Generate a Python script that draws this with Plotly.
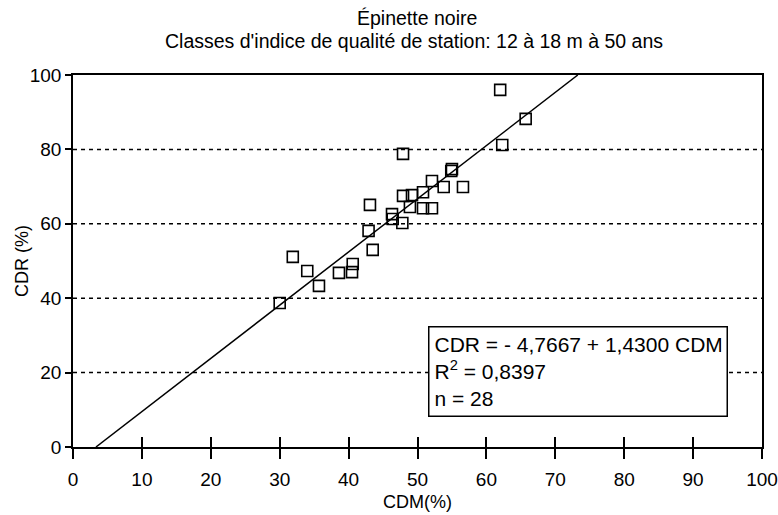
import plotly.graph_objects as go

cdm = [30.0, 31.9, 34.0, 35.7, 38.6, 40.5, 40.6, 42.9, 43.5, 43.1,
       46.3, 46.4, 47.8, 47.9, 47.9, 49.2, 48.9, 50.8, 50.8, 52.1,
       52.1, 53.8, 55.0, 54.9, 56.6, 62.0, 62.3, 65.7]
cdr = [38.7, 51.1, 47.3, 43.3, 46.8, 47.0, 49.2, 58.1, 53.0, 65.1,
       62.6, 61.3, 60.2, 78.8, 67.5, 67.7, 64.5, 68.5, 64.2, 64.2,
       71.5, 69.9, 74.7, 74.2, 69.9, 96.0, 81.2, 88.2]

intercept = -4.7667
slope = 1.4300
r2 = 0.8397
n = 28

x_ticks = [0, 10, 20, 30, 40, 50, 60, 70, 80, 90, 100]
y_ticks = [0, 20, 40, 60, 80, 100]

title_lines = ["Épinette noire",
               "Classes d'indice de qualité de station: 12 à 18 m à 50 ans"]
x_title = "CDM(%)"
y_title = "CDR (%)"

# regression line endpoints where it meets y=0 and y=100
line_x = [(0 - intercept) / slope, (100 - intercept) / slope]
line_y = [intercept + slope * v for v in line_x]

FONT = "Liberation Sans, Arial, sans-serif"

fig = go.Figure()
fig.add_trace(go.Scatter(x=line_x, y=line_y, mode="lines",
                         line=dict(color="black", width=1.5),
                         showlegend=False, hoverinfo="skip"))
fig.add_trace(go.Scatter(x=cdm, y=cdr, mode="markers",
                         marker=dict(symbol="square-open", size=11,
                                     color="black", line=dict(width=1.6)),
                         showlegend=False))
# invisible trace on overlay axis for inward ticks
fig.add_trace(go.Scatter(x=[0], y=[0], xaxis="x2", mode="markers",
                         marker=dict(opacity=0), showlegend=False,
                         hoverinfo="skip"))

for yv in y_ticks[1:-1]:
    fig.add_shape(type="line", xref="x", yref="y", x0=0, x1=100, y0=yv, y1=yv,
                  line=dict(color="black", width=1.5, dash="4px,4px"),
                  layer="below")

eq_text = ("CDR = - 4,7667 + 1,4300 CDM<br>R<sup>2</sup> = 0,8397<br>n = %d" % n)
fig.add_annotation(x=51.5, y=32.6, xref="x", yref="y", xanchor="left",
                   yanchor="top", text=eq_text, showarrow=False, align="left",
                   font=dict(family=FONT, size=21, color="black"),
                   bordercolor="black", borderwidth=1.5, bgcolor="white",
                   width=287, borderpad=5)

fig.add_annotation(x=0.499, y=1.153, xref="paper", yref="paper",
                   xanchor="center", yanchor="middle", text=title_lines[0],
                   showarrow=False, font=dict(family=FONT, size=19.5, color="black"))
fig.add_annotation(x=0.495, y=1.091, xref="paper", yref="paper",
                   xanchor="center", yanchor="middle", text=title_lines[1],
                   showarrow=False, font=dict(family=FONT, size=19.5, color="black"))
fig.add_annotation(x=-0.074, y=0.5, xref="paper", yref="paper",
                   xanchor="center", yanchor="middle", text=y_title,
                   textangle=-90, showarrow=False,
                   font=dict(family=FONT, size=18, color="black"))
fig.add_annotation(x=0.5, y=-0.148, xref="paper", yref="paper",
                   xanchor="center", yanchor="middle", text=x_title,
                   showarrow=False,
                   font=dict(family=FONT, size=18, color="black"))

fig.update_layout(
    width=778, height=515,
    margin=dict(l=73, r=16, t=75, b=68),
    paper_bgcolor="white", plot_bgcolor="white",
    font=dict(family=FONT, size=19, color="black"),
    xaxis=dict(range=[0, 100], tickvals=x_ticks, ticks="outside", ticklen=10,
               tickwidth=1.5, tickcolor="black", showline=True, linecolor="black",
               linewidth=1.5, mirror=True, showgrid=False, zeroline=False,
               automargin=False, ticklabelstandoff=4,
               tickfont=dict(size=19)),
    xaxis2=dict(range=[0, 100], tickvals=x_ticks, ticks="inside", ticklen=10,
                tickwidth=1.5, tickcolor="black", overlaying="x", side="bottom",
                showticklabels=False, showgrid=False, zeroline=False,
                showline=False, automargin=False),
    yaxis=dict(range=[0, 100], tickvals=y_ticks, ticks="outside", ticklen=6,
               tickwidth=1.5, tickcolor="black", showline=True, linecolor="black",
               linewidth=1.5, mirror=True, showgrid=False, zeroline=False,
               automargin=False, ticklabelstandoff=0,
               tickfont=dict(size=19)),
)

fig.write_html("out.html", config={"displayModeBar": False},
               post_script="document.body.style.margin='0px';")
